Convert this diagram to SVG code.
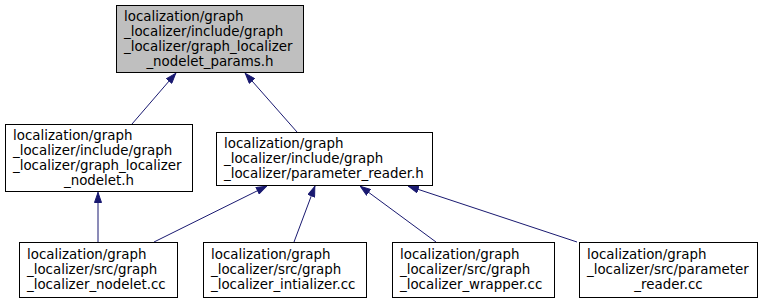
<svg xmlns="http://www.w3.org/2000/svg" width="763" height="304" viewBox="0 0 763 304">
  <style>
    .node rect { fill: #ffffff; stroke: #000000; stroke-width: 1; }
    .node.current rect { fill: #bfbfbf; }
    .node text { font-family: "DejaVu Sans", "Liberation Sans", sans-serif; font-size: 13.4px; fill: #000000; }
    .edge { fill: none; stroke: #191970; stroke-width: 1; }
  </style>
  <defs>
    <marker id="arrow" viewBox="0 0 11 8" refX="11" refY="4" markerWidth="11" markerHeight="8" markerUnits="userSpaceOnUse" orient="auto">
      <polygon points="0.5,0.5 10.5,4 0.5,7.5" fill="#191970" stroke="#191970"/>
    </marker>
  </defs>

  <!-- connectors: includer points at included header -->
  <g id="edges">
    <line class="edge" x1="132" y1="124" x2="176" y2="73" marker-end="url(#arrow)"/>
    <line class="edge" x1="297" y1="132" x2="245" y2="73" marker-end="url(#arrow)"/>
    <line class="edge" x1="98" y1="242" x2="98" y2="192" marker-end="url(#arrow)"/>
    <line class="edge" x1="154" y1="242" x2="267" y2="186" marker-end="url(#arrow)"/>
    <line class="edge" x1="294" y1="242" x2="315" y2="186" marker-end="url(#arrow)"/>
    <line class="edge" x1="436" y1="242" x2="360" y2="186" marker-end="url(#arrow)"/>
    <line class="edge" x1="577" y1="242" x2="408" y2="186" marker-end="url(#arrow)"/>
  </g>

  <g id="node_params_h" class="node current">
    <rect x="116.5" y="5.5" width="187" height="67"/>
    <text x="124" y="20.5">localization/graph</text>
    <text x="124" y="35.5">_localizer/include/graph</text>
    <text x="124" y="50.5">_localizer/graph_localizer</text>
    <text x="210" y="65.5" text-anchor="middle">_nodelet_params.h</text>
  </g>

  <g id="node_nodelet_h" class="node">
    <rect x="5.5" y="124.5" width="187" height="67"/>
    <text x="13" y="139.5">localization/graph</text>
    <text x="13" y="154.5">_localizer/include/graph</text>
    <text x="13" y="169.5">_localizer/graph_localizer</text>
    <text x="99" y="184.5" text-anchor="middle">_nodelet.h</text>
  </g>

  <g id="node_parameter_reader_h" class="node">
    <rect x="216.5" y="132.5" width="216" height="53"/>
    <text x="224" y="147.5">localization/graph</text>
    <text x="224" y="162.5">_localizer/include/graph</text>
    <text x="224" y="177.5">_localizer/parameter_reader.h</text>
  </g>

  <g id="node_nodelet_cc" class="node">
    <rect x="19.5" y="242.5" width="158" height="55"/>
    <text x="27" y="258.5">localization/graph</text>
    <text x="27" y="273.5">_localizer/src/graph</text>
    <text x="27" y="288.5">_localizer_nodelet.cc</text>
  </g>

  <g id="node_intializer_cc" class="node">
    <rect x="203.5" y="242.5" width="163" height="55"/>
    <text x="211" y="258.5">localization/graph</text>
    <text x="211" y="273.5">_localizer/src/graph</text>
    <text x="211" y="288.5">_localizer_intializer.cc</text>
  </g>

  <g id="node_wrapper_cc" class="node">
    <rect x="392.5" y="242.5" width="162" height="55"/>
    <text x="400" y="258.5">localization/graph</text>
    <text x="400" y="273.5">_localizer/src/graph</text>
    <text x="400" y="288.5">_localizer_wrapper.cc</text>
  </g>

  <g id="node_parameter_reader_cc" class="node">
    <rect x="579.5" y="242.5" width="178" height="55"/>
    <text x="587" y="258.5">localization/graph</text>
    <text x="587" y="273.5">_localizer/src/parameter</text>
    <text x="668.5" y="288.5" text-anchor="middle">_reader.cc</text>
  </g>
</svg>
